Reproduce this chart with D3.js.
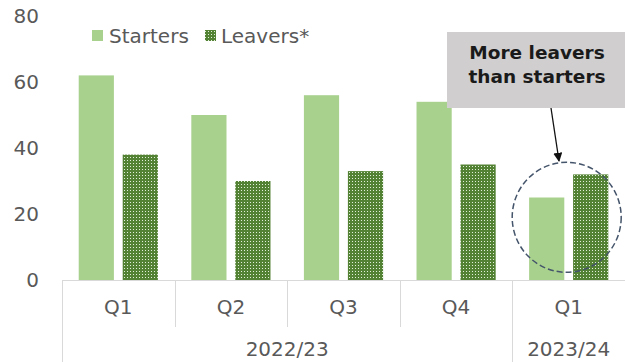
<!DOCTYPE html>
<html><head><meta charset="utf-8">
<script src="https://cdn.jsdelivr.net/npm/d3@7"></script>
<style>body{margin:0;background:#fff}svg{display:block}text{font-family:"DejaVu Sans",Verdana,sans-serif}</style>
</head><body><div id="c"></div>
<script>
const quarters = ["Q1","Q2","Q3","Q4","Q1"];
const years = [{label:"2022/23", from:0, to:4},{label:"2023/24", from:4, to:5}];
const starters = [62, 50, 56, 54, 25];
const leavers = [38, 30, 33, 35, 32];
const yTicks = [0, 20, 40, 60, 80];
const seriesNames = ["Starters", "Leavers*"];
const annotation = ["More leavers", "than starters"];

const W = 625, H = 362;
const FS = 20;
const svg = d3.select("#c").append("svg").attr("width", W).attr("height", H);
const defs = svg.append("defs");
const pat = defs.append("pattern").attr("id","dots").attr("patternUnits","userSpaceOnUse")
  .attr("width",3).attr("height",3);
pat.append("rect").attr("width",3).attr("height",3).attr("fill","#548235");
pat.append("rect").attr("x",1).attr("y",1).attr("width",1).attr("height",1).attr("fill","#e2efda");

const x0 = d3.scaleBand().domain(d3.range(quarters.length)).range([62, 625]);
const x1 = d3.scaleBand().domain([0,1]).range([0, x0.bandwidth()]).paddingInner(0.2).paddingOuter(0.38);
const y = d3.scaleLinear().domain([0, 80]).range([280, 16]);

// y labels
svg.append("g").selectAll("text").data(yTicks).join("text")
  .attr("x", 39).attr("y", d => y(d)).attr("dy","0.35em").attr("text-anchor","end")
  .attr("font-size", FS).attr("fill", "#595959").text(d => d);

// bars
const g = svg.append("g");
quarters.forEach((q, i) => {
  g.append("rect").attr("x", x0(i) + x1(0)).attr("width", x1.bandwidth())
    .attr("y", y(starters[i])).attr("height", y(0) - y(starters[i])).attr("fill", "#a9d18e");
  g.append("rect").attr("x", x0(i) + x1(1)).attr("width", x1.bandwidth())
    .attr("y", y(leavers[i])).attr("height", y(0) - y(leavers[i])).attr("fill", "url(#dots)");
});

// axis
const ax = svg.append("g").attr("stroke", "#d9d9d9").attr("stroke-width", 1);
ax.append("line").attr("x1", 62).attr("x2", 625).attr("y1", 280.5).attr("y2", 280.5);
d3.range(quarters.length + 1).forEach(i => {
  const xx = i < quarters.length ? x0(i) : 625;
  const isYear = years.some(yr => yr.from === i) || i === quarters.length;
  ax.append("line").attr("x1", Math.round(xx)+0.5).attr("x2", Math.round(xx)+0.5)
    .attr("y1", 280).attr("y2", isYear ? 362 : 327);
});
svg.append("g").selectAll("text").data(quarters).join("text")
  .attr("x", (d,i) => x0(i) + x0.bandwidth()/2).attr("y", 307).attr("dy","0.35em")
  .attr("text-anchor","middle").attr("font-size",FS).attr("fill","#595959").text(d => d);
svg.append("g").selectAll("text").data(years).join("text")
  .attr("x", d => (x0(d.from) + (d.to < quarters.length ? x0(d.to) : 625))/2).attr("y", 349).attr("dy","0.35em")
  .attr("text-anchor","middle").attr("font-size",FS).attr("fill","#595959").text(d => d.label);

// legend
const lg = svg.append("g");
lg.append("rect").attr("x", 92).attr("y", 30).attr("width", 11).attr("height", 11).attr("fill", "#a9d18e");
lg.append("text").attr("x", 109).attr("y", 36).attr("dy","0.35em").attr("font-size",FS).attr("fill","#595959").text(seriesNames[0]);
lg.append("rect").attr("x", 205).attr("y", 30).attr("width", 11).attr("height", 11).attr("fill", "url(#dots)");
lg.append("text").attr("x", 221).attr("y", 36).attr("dy","0.35em").attr("font-size",FS).attr("fill","#595959").text(seriesNames[1]);

// annotation
const cx = x0(4) + x0.bandwidth()/2;
svg.append("ellipse").attr("cx", cx - 2).attr("cy", y(19))
  .attr("rx", 54.5).attr("ry", 55).attr("fill","none").attr("stroke","#44546a")
  .attr("stroke-width",1.5).attr("stroke-dasharray","6,3");
svg.append("rect").attr("x", 447).attr("y", 32).attr("width", 180).attr("height", 76).attr("fill", "#d0cece");
svg.append("g").selectAll("text").data(annotation).join("text")
  .attr("x", 537).attr("y", (d,i) => 53 + i*24).attr("dy","0.35em").attr("text-anchor","middle")
  .attr("font-size",18.5).attr("font-weight","bold").attr("fill","#1a1a1a").text(d => d);
defs.append("marker").attr("id","arr").attr("viewBox","0 0 10 10").attr("refX",9).attr("refY",5)
  .attr("markerWidth",7).attr("markerHeight",7).attr("orient","auto")
  .append("path").attr("d","M0,0L10,5L0,10z").attr("fill","#111");
svg.append("line").attr("x1",551).attr("y1",108).attr("x2",559).attr("y2",161)
  .attr("stroke","#111").attr("stroke-width",1.3).attr("marker-end","url(#arr)");
</script></body></html>
